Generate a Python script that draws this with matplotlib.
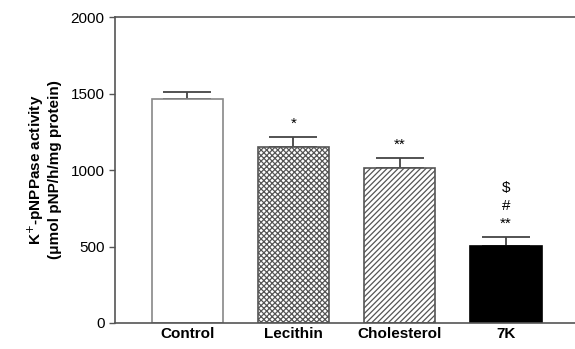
import matplotlib as mpl
mpl.use('Agg')
import matplotlib.pyplot as plt

plt.rcParams['font.family'] = ['Liberation Sans', 'DejaVu Sans']
plt.rcParams['hatch.linewidth'] = 0.9

# data
groups = ['Control', 'Lecithin', 'Cholesterol', '7K']
means = [1464, 1150, 1013, 503]
sems = [46, 66, 65, 59]
marks = ['', '*', '**', '\\$\n#\n**']

fig = plt.figure(figsize=(5.75, 3.49), dpi=100)
ax = fig.add_axes([0.2, 0.0745, 0.8, 0.8765])

x = range(len(groups))
faces = ['white', 'white', 'white', 'black']
edges = ['#888888', '#555555', '#555555', 'black']
hatches = [None, 'xxxxxx', '//////', None]
for i in x:
    ax.bar(i, means[i], width=0.67, color=faces[i], edgecolor=edges[i],
           hatch=hatches[i], linewidth=1.2, zorder=2)
    ax.errorbar(i, means[i], yerr=[[0], [sems[i]]], fmt='none',
                ecolor='#444444', elinewidth=1.3, capsize=17, capthick=1.3, zorder=1)
    if marks[i]:
        ax.text(i, means[i] + sems[i] + 40, marks[i], ha='center', va='bottom',
                fontsize=11, linespacing=1.35)

ax.set_xlim(-0.68, 3.65)
ax.set_ylim(0, 2000)
ax.set_yticks([0, 500, 1000, 1500, 2000])
ax.set_xticks(list(x))
ax.set_xticklabels(groups, fontweight='bold', fontsize=11)
ax.tick_params(axis='x', length=0, pad=3)
ax.tick_params(axis='y', labelsize=11, length=4, width=1, color='#555555')
ax.spines['right'].set_visible(False)
for s in ['left', 'top', 'bottom']:
    ax.spines[s].set_color('#555555')
    ax.spines[s].set_linewidth(1.2)
ax.set_ylabel('K$^{+}$-pNPPase activity\n(μmol pNP/h/mg protein)',
              fontweight='bold', fontsize=11, labelpad=6)

fig.savefig('out.png', dpi=100)
